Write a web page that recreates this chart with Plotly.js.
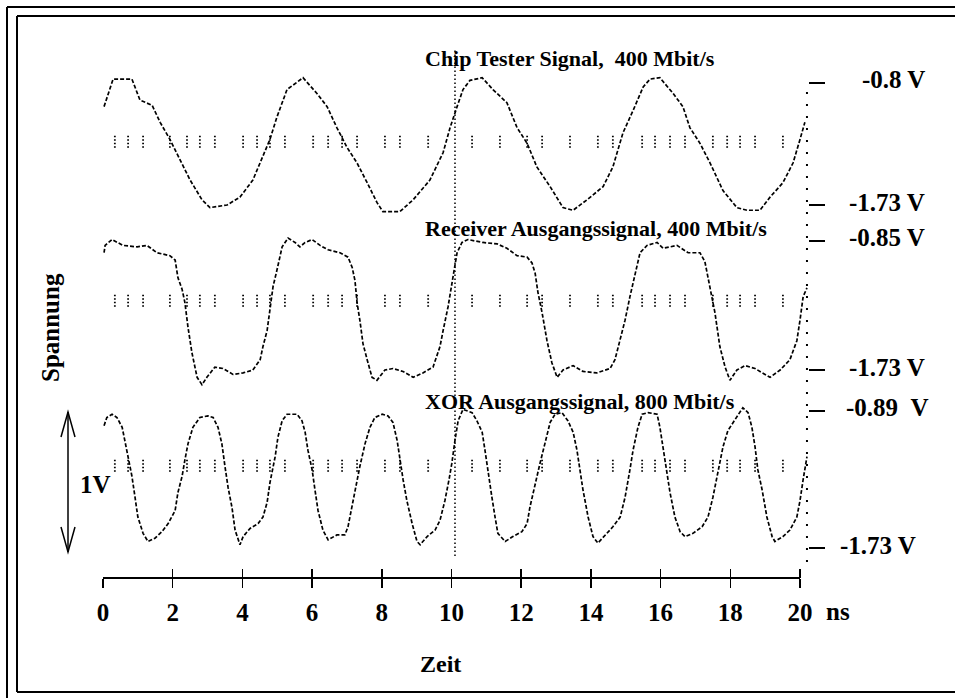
<!DOCTYPE html>
<html>
<head>
<meta charset="utf-8">
<script src="https://cdn.plot.ly/plotly-3.0.1.min.js"></script>
<style>html,body{margin:0;padding:0;background:#fff;}#chart{width:955px;height:698px;}</style>
</head>
<body>
<div id="chart"></div>
<script>
// ---------- data (time in ns, voltage in V) ----------
const chipT = [0.03,0.14,0.29,0.83,1.06,1.41,1.64,1.92,2.21,2.50,2.84,3.07,3.56,3.93,4.30,4.59,4.79,4.99,5.28,5.74,6.14,6.43,6.71,7.00,7.29,7.58,7.86,8.03,8.52,8.90,9.38,9.76,9.96,10.16,10.33,10.53,10.88,11.19,11.59,11.88,12.17,12.45,12.83,13.20,13.49,13.89,14.35,14.63,14.92,15.21,15.50,15.70,15.98,16.36,16.64,16.84,17.13,17.42,17.79,18.19,18.48,18.85,19.14,19.51,19.80,20.00,20.14];
const chipV = [-0.98,-0.89,-0.77,-0.77,-0.93,-0.97,-1.10,-1.23,-1.39,-1.54,-1.69,-1.75,-1.73,-1.67,-1.54,-1.36,-1.23,-1.06,-0.85,-0.76,-0.88,-0.98,-1.14,-1.29,-1.41,-1.56,-1.71,-1.78,-1.78,-1.69,-1.54,-1.33,-1.14,-0.98,-0.85,-0.78,-0.76,-0.85,-0.95,-1.14,-1.26,-1.44,-1.59,-1.75,-1.77,-1.69,-1.59,-1.44,-1.18,-1.01,-0.83,-0.77,-0.76,-0.88,-0.98,-1.14,-1.26,-1.41,-1.62,-1.75,-1.77,-1.77,-1.67,-1.56,-1.41,-1.23,-1.10];

const recT = [0.03,0.06,0.26,0.57,0.98,1.26,1.55,1.92,2.07,2.15,2.27,2.35,2.44,2.55,2.70,2.84,2.98,3.21,3.44,3.73,4.02,4.30,4.51,4.59,4.71,4.79,4.88,4.99,5.14,5.31,5.51,5.65,5.80,6.00,6.23,6.46,6.80,7.03,7.15,7.23,7.29,7.37,7.46,7.58,7.72,7.86,8.09,8.32,8.61,8.90,9.18,9.47,9.67,9.76,9.90,10.04,10.16,10.30,10.47,10.90,11.31,11.59,11.88,12.17,12.31,12.40,12.48,12.60,12.74,12.88,13.03,13.20,13.49,13.77,14.17,14.55,14.69,14.83,14.98,15.12,15.27,15.41,15.61,15.90,16.07,16.47,16.79,17.13,17.27,17.36,17.48,17.56,17.70,17.85,17.99,18.19,18.42,18.71,19.14,19.43,19.71,19.91,20.00,20.09,20.20];
const recV = [-0.93,-0.88,-0.84,-0.88,-0.89,-0.88,-0.93,-0.95,-0.98,-1.10,-1.18,-1.27,-1.44,-1.61,-1.78,-1.83,-1.78,-1.71,-1.72,-1.76,-1.75,-1.73,-1.66,-1.57,-1.46,-1.32,-1.16,-1.05,-0.89,-0.83,-0.86,-0.89,-0.86,-0.84,-0.88,-0.91,-0.93,-0.96,-1.03,-1.12,-1.27,-1.39,-1.55,-1.66,-1.78,-1.80,-1.73,-1.72,-1.74,-1.78,-1.75,-1.71,-1.57,-1.46,-1.30,-1.10,-0.93,-0.86,-0.84,-0.86,-0.87,-0.90,-0.95,-0.96,-1.00,-1.07,-1.20,-1.34,-1.53,-1.68,-1.78,-1.73,-1.70,-1.74,-1.75,-1.72,-1.66,-1.53,-1.39,-1.23,-1.07,-0.93,-0.88,-0.86,-0.90,-0.88,-0.93,-0.93,-0.99,-1.10,-1.23,-1.34,-1.57,-1.71,-1.80,-1.73,-1.70,-1.72,-1.78,-1.73,-1.66,-1.53,-1.39,-1.23,-1.17];

const xorT = [0.03,0.11,0.26,0.40,0.55,0.63,0.72,0.83,0.92,1.00,1.15,1.29,1.49,1.69,1.87,2.07,2.15,2.27,2.35,2.44,2.58,2.78,3.01,3.16,3.30,3.41,3.50,3.59,3.70,3.79,3.93,4.02,4.22,4.45,4.59,4.71,4.79,4.94,5.02,5.14,5.28,5.57,5.71,5.80,5.88,6.00,6.08,6.17,6.31,6.46,6.71,6.94,7.03,7.14,7.23,7.37,7.52,7.66,7.80,8.01,8.18,8.32,8.44,8.52,8.61,8.72,8.87,9.01,9.10,9.30,9.53,9.67,9.81,9.93,10.01,10.10,10.19,10.33,10.59,10.73,10.88,10.96,11.05,11.16,11.25,11.33,11.54,11.76,12.02,12.17,12.25,12.40,12.54,12.68,12.83,12.97,13.17,13.34,13.49,13.60,13.69,13.77,13.92,14.06,14.20,14.46,14.63,14.84,14.98,15.12,15.21,15.35,15.47,15.64,15.90,15.98,16.07,16.18,16.27,16.41,16.56,16.70,16.93,17.19,17.36,17.50,17.65,17.79,17.93,18.08,18.22,18.36,18.51,18.62,18.71,18.79,18.91,19.05,19.20,19.28,19.51,19.71,19.91,20.00,20.09,20.20];
const xorV = [-0.98,-0.93,-0.91,-0.93,-0.99,-1.07,-1.17,-1.29,-1.42,-1.54,-1.64,-1.69,-1.67,-1.63,-1.58,-1.50,-1.39,-1.29,-1.19,-1.09,-0.99,-0.93,-0.92,-0.93,-0.99,-1.09,-1.23,-1.36,-1.48,-1.62,-1.71,-1.66,-1.61,-1.58,-1.54,-1.45,-1.33,-1.17,-1.05,-0.95,-0.91,-0.91,-0.95,-1.02,-1.13,-1.25,-1.37,-1.50,-1.62,-1.68,-1.65,-1.65,-1.60,-1.48,-1.37,-1.23,-1.09,-0.99,-0.93,-0.91,-0.92,-0.96,-1.07,-1.19,-1.31,-1.44,-1.58,-1.69,-1.71,-1.66,-1.62,-1.56,-1.44,-1.31,-1.21,-1.07,-0.95,-0.88,-0.90,-0.95,-1.02,-1.13,-1.27,-1.42,-1.54,-1.64,-1.69,-1.66,-1.63,-1.58,-1.48,-1.33,-1.21,-1.09,-0.96,-0.91,-0.90,-0.95,-1.02,-1.13,-1.25,-1.37,-1.54,-1.66,-1.70,-1.64,-1.60,-1.54,-1.42,-1.25,-1.13,-0.99,-0.91,-0.90,-0.91,-0.99,-1.11,-1.25,-1.39,-1.54,-1.63,-1.66,-1.64,-1.60,-1.54,-1.42,-1.25,-1.11,-1.01,-0.96,-0.91,-0.87,-0.90,-0.99,-1.11,-1.25,-1.37,-1.54,-1.66,-1.69,-1.66,-1.62,-1.54,-1.44,-1.31,-1.17];

// scope graticule marks (time positions) and centre voltage of each trace
const markT = [0.34,0.72,1.15,1.92,2.41,2.78,3.21,4.02,4.42,4.79,5.22,6.03,6.46,6.86,7.29,8.09,8.52,9.33,10.59,11.39,12.17,12.60,13.40,14.20,14.63,15.47,15.84,16.27,16.70,17.50,17.91,18.28,18.71,19.51];
const centerV = [-1.24, -1.25, -1.22];

const titles = ['Chip Tester Signal,\u00a0\u00a0400 Mbit/s', 'Receiver Ausgangssignal, 400 Mbit/s', 'XOR Ausgangssignal, 800 Mbit/s'];
const levelTop = [-0.8, -0.85, -0.89];
const levelBot = [-1.73, -1.73, -1.73];
const levelTopText = ['-0.8 V', '-0.85 V', '-0.89\u00a0\u00a0V'];
const levelBotText = ['-1.73 V', '-1.73 V', '-1.73 V'];
const xTicks = [0,2,4,6,8,10,12,14,16,18,20];
const cursorT = 10.1;
const rightEdgeT = 20.2;

// ---------- layout geometry ----------
const PL = 103, PT = 40, PW = 705, PH = 538;
const X0PX = 103, X20PX = 800;
const pxPerNs = (X20PX - X0PX) / 20;
const xMax = PW / pxPerNs;
const px2x = p => (p - PL) / PW;
const py2y = p => (PT + PH - p) / PH;
// pixel anchors of the level marks for each trace
const topPx = [83, 241, 411];
const botPx = [205, 370, 548];
function yRange(i) {
  const k = (botPx[i] - topPx[i]) / (levelTop[i] - levelBot[i]); // px per V
  return [levelBot[i] - (PT + PH - botPx[i]) / k, levelTop[i] + (topPx[i] - PT) / k];
}
function pxPerV(i) { return (botPx[i] - topPx[i]) / (levelTop[i] - levelBot[i]); }

const FONT = 'Liberation Serif, Times New Roman, serif';
const axisNames = ['y', 'y2', 'y3'];
const series = [[chipT, chipV], [recT, recV], [xorT, xorV]];

const traces = [];
series.forEach((s, i) => {
  traces.push({
    x: s[0], y: s[1], yaxis: axisNames[i], xaxis: 'x', type: 'scatter', mode: 'lines',
    line: {color: '#000', width: 1.7, dash: '4px,2px'}, hoverinfo: 'skip', showlegend: false
  });
  const half = 7 / pxPerV(i);
  const mx = [], my = [];
  markT.forEach(t => { mx.push(t, t, null); my.push(centerV[i] - half, centerV[i] + half, null); });
  traces.push({
    x: mx, y: my, yaxis: axisNames[i], xaxis: 'x', type: 'scatter', mode: 'lines',
    line: {color: '#000', width: 1.8, dash: '1.5px,2px'}, hoverinfo: 'skip', showlegend: false, connectgaps: false
  });
});
// invisible trace to register the overlay x axis
traces.push({x: [0], y: [null], xaxis: 'x2', yaxis: 'y', type: 'scatter', mode: 'lines', showlegend: false, hoverinfo: 'skip'});

const yBase = {showgrid: false, zeroline: false, showline: false, side: 'right', anchor: 'x',
  ticks: 'outside', ticklen: 16, tickwidth: 2, tickcolor: '#000', showticklabels: false, fixedrange: true};

const layout = {
  width: 955, height: 698,
  margin: {l: PL, r: 955 - PL - PW, t: PT, b: 698 - PT - PH, pad: 0},
  paper_bgcolor: '#fff', plot_bgcolor: 'rgba(0,0,0,0)',
  showlegend: false,
  font: {family: FONT, color: '#000'},
  xaxis: {range: [0, xMax], showgrid: false, zeroline: false, showline: false,
    tickvals: xTicks, ticktext: xTicks.map(String), ticks: 'outside', ticklen: 9, tickwidth: 1.5, tickcolor: '#000',
    tickfont: {family: FONT, size: 25, weight: 700, color: '#000'}, ticklabelstandoff: 3, fixedrange: true},
  xaxis2: {range: [0, xMax], overlaying: 'x', anchor: 'y', side: 'bottom', showgrid: false, zeroline: false, showline: false,
    tickvals: xTicks, ticks: 'inside', ticklen: 9, tickwidth: 1.5, tickcolor: '#000', showticklabels: false, fixedrange: true},
  yaxis: Object.assign({}, yBase, {range: yRange(0), tickvals: [levelTop[0], levelBot[0]]}),
  yaxis2: Object.assign({}, yBase, {range: yRange(1), tickvals: [levelTop[1], levelBot[1]], overlaying: 'y'}),
  yaxis3: Object.assign({}, yBase, {range: yRange(2), tickvals: [levelTop[2], levelBot[2]], overlaying: 'y'}),
  shapes: [],
  annotations: []
};

// x axis base line from 0 to 20 ns
layout.shapes.push({type: 'line', xref: 'x', yref: 'paper', x0: 0, x1: 20, y0: 0, y1: 0, line: {color: '#000', width: 2}});
// cursor dotted line
layout.shapes.push({type: 'line', xref: 'x', yref: 'paper', x0: cursorT, x1: cursorT, y0: py2y(556), y1: py2y(48), line: {color: '#000', width: 1.5, dash: '1.5px,2.5px'}});
// right graticule edge
layout.shapes.push({type: 'line', xref: 'x', yref: 'paper', x0: rightEdgeT, x1: rightEdgeT, y0: py2y(562), y1: py2y(83), line: {color: '#000', width: 2, dash: '2px,10px'}});
// frames
const fr = {color: '#000', width: 2};
layout.shapes.push({type: 'line', xref: 'paper', yref: 'paper', x0: px2x(7), x1: px2x(7), y0: py2y(7), y1: py2y(698), line: fr});
layout.shapes.push({type: 'line', xref: 'paper', yref: 'paper', x0: px2x(7), x1: px2x(955), y0: py2y(7), y1: py2y(7), line: fr});
layout.shapes.push({type: 'line', xref: 'paper', yref: 'paper', x0: px2x(17), x1: px2x(17), y0: py2y(16), y1: py2y(692), line: fr});
layout.shapes.push({type: 'line', xref: 'paper', yref: 'paper', x0: px2x(17), x1: px2x(955), y0: py2y(16), y1: py2y(16), line: fr});
layout.shapes.push({type: 'line', xref: 'paper', yref: 'paper', x0: px2x(17), x1: px2x(955), y0: py2y(692), y1: py2y(692), line: fr});
// 1V double arrow
const ax = 68, aTop = 412, aBot = 552, aw = 7, ah = 25;
layout.shapes.push({type: 'line', xref: 'paper', yref: 'paper', x0: px2x(ax), x1: px2x(ax), y0: py2y(aTop), y1: py2y(aBot), line: {color: '#000', width: 1.5}});
layout.shapes.push({type: 'path', xref: 'paper', yref: 'paper', line: {color: '#000', width: 1.5},
  path: `M${px2x(ax - aw)},${py2y(aTop + ah)} L${px2x(ax)},${py2y(aTop)} L${px2x(ax + aw)},${py2y(aTop + ah)}`});
layout.shapes.push({type: 'path', xref: 'paper', yref: 'paper', line: {color: '#000', width: 1.5},
  path: `M${px2x(ax - aw)},${py2y(aBot - ah)} L${px2x(ax)},${py2y(aBot)} L${px2x(ax + aw)},${py2y(aBot - ah)}`});

function ann(text, xpx, ypx, size, xanchor, extra) {
  return Object.assign({text: text, xref: 'paper', yref: 'paper', x: px2x(xpx), y: py2y(ypx),
    xanchor: xanchor || 'center', yanchor: 'middle', showarrow: false,
    font: {family: FONT, size: size, weight: 700, color: '#000'}}, extra || {});
}
// trace titles
const titleY = [58, 228, 401];
titles.forEach((t, i) => layout.annotations.push(ann(t, 423, titleY[i], 22, 'left')));
// level labels on the right
const labelRight = [[927, 927], [927, 927], [931, 918]];
for (let i = 0; i < 3; i++) {
  layout.annotations.push({text: levelTopText[i], xref: 'paper', yref: axisNames[i], x: px2x(labelRight[i][0]), y: levelTop[i],
    xanchor: 'right', yanchor: 'middle', yshift: 4, showarrow: false, font: {family: FONT, size: 25, weight: 700, color: '#000'}});
  layout.annotations.push({text: levelBotText[i], xref: 'paper', yref: axisNames[i], x: px2x(labelRight[i][1]), y: levelBot[i],
    xanchor: 'right', yanchor: 'middle', yshift: 3, showarrow: false, font: {family: FONT, size: 25, weight: 700, color: '#000'}});
}
layout.annotations.push(ann('ns', 838, 611, 25, 'center'));
layout.annotations.push(ann('Zeit', 440, 664, 24, 'center'));
layout.annotations.push(ann('1V', 95, 485, 25, 'center'));
layout.annotations.push(ann('Spannung', 50, 328, 25, 'center', {textangle: -90}));

Plotly.newPlot('chart', traces, layout, {displayModeBar: false, staticPlot: true});
</script>
</body>
</html>
